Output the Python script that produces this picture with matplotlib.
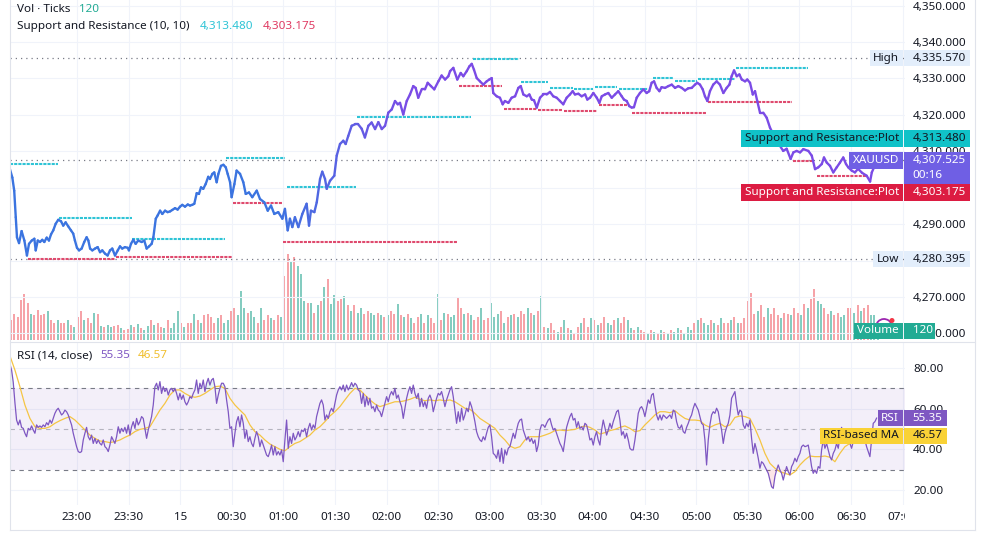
import numpy as np
import matplotlib
matplotlib.use("Agg")
import matplotlib.pyplot as plt
from matplotlib.collections import LineCollection
from matplotlib.patches import Rectangle, Ellipse, Arc
from matplotlib.lines import Line2D
import matplotlib.colors as mcolors

plt.rcParams['font.family'] = ['Noto Sans', 'DejaVu Sans']

# ---------------------------------------------------------------- data
# time values are minutes after 22:00 (14th); 120 = 00:00 (15th)
price_time = [
    21.0, 22.4, 23.5, 24.4, 25.1, 26.3, 27.8, 29.4, 30.9, 32.1,
    33.7, 35.2, 36.0, 37.2, 38.5, 39.8, 41.0, 42.4, 43.7, 44.9,
    46.2, 47.6, 49.1, 50.7, 52.0, 53.4, 54.9, 56.5, 57.8, 58.8,
    60.0, 61.2, 62.7, 64.2, 65.6, 66.6, 67.6, 68.9, 70.5, 72.0,
    73.4, 74.7, 76.3, 77.8, 79.2, 80.5, 82.1, 83.7, 85.0, 86.3,
    87.9, 89.5, 90.2, 91.4, 92.7, 94.1, 95.6, 97.6, 99.1, 100.5,
    101.9, 103.4, 104.4, 105.8, 106.9, 108.3, 109.6, 111.2, 112.7, 114.1,
    115.4, 117.0, 118.5, 119.9, 121.2, 122.8, 124.4, 125.7, 127.0, 128.2,
    129.6, 130.9, 132.1, 133.4, 134.8, 136.3, 137.3, 138.7, 139.8, 141.2,
    142.2, 143.7, 145.1, 146.5, 147.6, 149.0, 149.9, 151.5,
    152.8, 154.8, 156.7, 158.1, 160.0, 161.9, 164.5, 166.4, 168.9, 170.9,
    172.8, 174.7, 177.0, 179.4, 180.9, 182.5, 183.8, 185.2, 186.7, 188.7,
    191.0, 193.5, 194.9, 196.0, 198.0, 199.4, 201.3, 202.6, 204.2, 205.2,
    207.1, 209.6, 211.0, 212.9, 214.8, 216.2, 217.7, 219.7, 221.6, 223.5,
    225.5, 227.4, 229.4, 231.3, 233.3, 235.2, 237.2, 239.1, 241.0, 243.0,
    244.9, 246.5, 247.8, 249.7, 251.7, 253.6, 255.5, 256.9, 258.4, 260.4,
    262.3, 263.9, 265.8, 267.7, 270.1, 272.0, 274.0, 275.9,
    276.9, 278.8, 281.1, 283.1, 284.6, 286.6, 288.1, 289.5, 290.8, 292.4,
    294.3, 296.2, 298.2, 299.7, 301.1, 302.0, 304.0, 305.9, 307.5, 308.8,
    310.8, 312.7, 314.7, 316.6, 318.0, 319.5, 321.5, 323.0, 324.4, 325.7,
    327.3, 329.2, 331.1, 333.1, 335.0, 336.9, 338.9, 340.8, 342.7, 344.7,
    346.6, 348.2, 349.5, 351.5, 353.4, 355.4, 356.7, 358.3, 360.2, 362.2,
    363.7, 365.1, 367.0, 368.9, 370.9, 372.8, 374.7, 376.7, 378.0, 379.6,
    381.1, 382.5, 383.8, 385.4, 387.3, 389.3, 391.2, 392.7, 394.1, 395.5,
    397.0, 398.6, 399.9, 401.9, 403.8, 405.8, 407.7, 409.6, 411.6, 413.5,
    415.4, 417.4, 419.3, 420.6, 422.2, 423.8, 425.1, 426.5, 428.0, 429.9,
    431.9, 433.8, 435.8, 437.7, 439.3, 440.6, 442.0, 443.6, 445.1, 446.5,
    448.4, 449.7, 451.3, 452.9, 454.2, 455.5, 457.1, 459.0, 461.0, 462.9,
    464.7, 467.6, 470.6, 472.6, 474.9, 476.5, 478.4, 480.4, 482.3, 485.2,
    487.2, 489.1, 491.0, 493.0, 494.3, 495.9, 497.8, 499.7, 501.7, 503.6,
    505.5, 507.1, 508.4, 510.4, 512.3, 514.1, 516.4, 519.1, 521.1, 522.1,
    523.4, 524.6,
]
price_close = [
    4305.1, 4302.8, 4299.2, 4291.9, 4286.4, 4284.8, 4288.1, 4285.5, 4281.4, 4284.6,
    4285.5, 4286.0, 4282.8, 4285.5, 4285.1, 4285.7, 4285.1, 4286.3, 4285.5, 4287.2,
    4288.3, 4290.1, 4291.2, 4290.8, 4289.6, 4290.5, 4289.4, 4288.3, 4287.4, 4285.5,
    4283.5, 4282.8, 4283.3, 4285.1, 4286.4, 4285.5, 4283.3, 4282.8, 4283.3, 4283.7,
    4282.3, 4282.8, 4281.9, 4281.4, 4282.8, 4283.3, 4281.4, 4282.8, 4283.9, 4283.3,
    4283.7, 4283.5, 4282.8, 4284.6, 4285.7, 4284.6, 4285.5, 4285.1, 4285.5, 4283.3,
    4283.9, 4284.6, 4286.4, 4291.5, 4292.4, 4293.7, 4292.8, 4293.7, 4293.3, 4293.5,
    4293.9, 4294.4, 4294.0, 4294.8, 4295.3, 4294.8, 4295.4, 4295.1, 4295.3, 4295.6,
    4298.5, 4298.3, 4300.1, 4299.7, 4301.0, 4303.0, 4302.4, 4303.8, 4304.2, 4301.5,
    4303.8, 4306.0, 4306.3, 4305.6, 4303.8, 4301.5, 4297.4, 4301.0,
    4304.7, 4303.8, 4301.5, 4298.3, 4298.7, 4297.4, 4299.2, 4296.9, 4296.0, 4293.7,
    4295.1, 4292.8, 4293.3, 4291.5, 4294.2, 4288.3, 4291.5, 4289.2, 4291.9, 4289.2,
    4292.8, 4295.6, 4289.6, 4293.7, 4293.3, 4296.0, 4302.4, 4304.4, 4302.4, 4299.7,
    4301.9, 4303.3, 4308.8, 4312.0, 4312.9, 4312.0, 4314.2, 4317.0, 4317.4, 4317.4,
    4316.2, 4313.8, 4317.0, 4317.9, 4316.1, 4318.0, 4316.1, 4317.0, 4320.6, 4321.5,
    4323.8, 4322.9, 4323.3, 4320.1, 4323.8, 4325.6, 4327.9, 4327.4, 4324.7, 4327.0,
    4327.0, 4328.8, 4327.9, 4327.0, 4329.2, 4330.8, 4329.7, 4330.6,
    4332.0, 4332.9, 4329.7, 4331.5, 4330.6, 4332.0, 4333.3, 4334.0, 4332.4, 4330.1,
    4329.2, 4328.3, 4329.2, 4329.7, 4330.1, 4326.0, 4325.1, 4324.7, 4322.9, 4323.8,
    4323.3, 4324.7, 4325.1, 4327.4, 4327.9, 4325.6, 4325.1, 4325.6, 4324.2, 4324.0,
    4322.0, 4324.7, 4325.6, 4325.6, 4326.3, 4325.1, 4324.7, 4323.8, 4322.9, 4324.7,
    4325.6, 4326.5, 4325.6, 4325.8, 4325.1, 4325.6, 4324.2, 4324.7, 4326.0, 4324.7,
    4323.3, 4325.1, 4325.6, 4326.0, 4324.7, 4325.6, 4326.5, 4325.1, 4324.2, 4323.8,
    4322.4, 4322.0, 4322.1, 4324.7, 4326.0, 4327.0, 4326.0, 4326.5, 4328.8, 4329.2,
    4327.4, 4326.5, 4327.6, 4327.4, 4327.9, 4328.3, 4327.4, 4327.9, 4327.4, 4326.7,
    4327.3, 4327.4, 4328.3, 4328.8, 4328.3, 4327.0, 4325.1, 4323.8, 4326.5, 4328.3,
    4329.2, 4328.3, 4326.0, 4327.4, 4328.3, 4330.6, 4332.2, 4330.6, 4331.1, 4329.7,
    4329.2, 4329.7, 4328.8, 4325.6, 4326.5, 4323.8, 4320.6, 4320.6, 4319.2, 4316.5,
    4314.8, 4312.3, 4310.1, 4310.7, 4307.9, 4309.7, 4310.1, 4309.7, 4310.6, 4310.1,
    4308.8, 4305.1, 4305.6, 4306.5, 4308.3, 4306.9, 4306.0, 4304.2, 4305.6, 4306.9,
    4308.3, 4306.5, 4305.6, 4304.7, 4304.2, 4305.2, 4304.1, 4303.3, 4301.7, 4304.2,
    4305.6, 4307.525,
]

# Support and Resistance (10, 10) levels: start time, end time, level
res_start = [21.0, 49.5, 92.0, 146.5, 181.9, 222.8, 290.1, 318.1, 335.0, 349.0, 361.3, 375.3, 395.1, 407.5, 420.9, 443.0]
res_end = [49.0, 91.7, 146.0, 180.9, 222.0, 288.9, 317.0, 334.0, 348.2, 360.2, 373.8, 392.0, 406.3, 420.3, 442.4, 485.0]
res_level = [4306.4, 4291.6, 4285.9, 4308.2, 4300.1, 4319.5, 4335.3, 4328.9, 4327.3, 4327.1, 4327.6, 4327.2, 4330.2, 4329.2, 4329.8, 4332.8]
sup_start = [31.3, 82.7, 150.9, 179.9, 282.3, 308.0, 328.0, 343.2, 363.5, 382.4, 427.0, 476.5, 490.1]
sup_end = [82.1, 150.1, 179.0, 280.8, 306.9, 327.2, 342.0, 362.2, 381.0, 426.1, 475.5, 487.2, 519.1]
sup_level = [4280.4, 4281.1, 4295.7, 4285.1, 4328.0, 4321.7, 4321.3, 4321.1, 4322.7, 4320.6, 4323.6, 4307.4, 4303.175]

last_price = 4307.525
last_res = 4313.480
last_sup = 4303.175
high_price = 4335.570
low_price = 4280.395
countdown = "00:16"
symbol = "XAUUSD"

# volume (ticks), bars every vol_step minutes starting at vol_start
vol_start = 21.6
vol_step = 1.938
volume = [
    260, 350, 310, 530, 610, 490, 350, 330, 400, 330,
    350, 380, 260, 220, 260, 230, 220, 260, 200, 170,
    300, 390, 260, 290, 230, 360, 350, 180, 170, 200,
    170, 180, 200, 160, 130, 140, 200, 170, 210, 160,
    130, 180, 260, 200, 220, 170, 160, 260, 160, 230,
    390, 220, 170, 230, 220, 350, 260, 220, 330, 350,
    300, 230, 290, 330, 220, 260, 390, 430, 330, 650,
    420, 360, 390, 300, 220, 420, 260, 330, 290, 260,
    330, 310, 850, 1140, 1040, 1100, 980, 880, 520, 490,
    490, 360, 470, 520, 700, 810, 480, 600, 520, 550,
    590, 460, 390, 460, 360, 420, 350, 390, 360, 330,
    360, 330, 300, 330, 390, 350, 480, 330, 300, 350,
    290, 220, 300, 350, 220, 330, 290, 230, 610, 260,
    360, 350, 300, 330, 560, 430, 350, 360, 330, 260,
    300, 420, 260, 290, 490, 300, 350, 390, 220, 300,
    330, 350, 300, 390, 350, 420, 360, 330, 390, 590,
    170, 160, 220, 130, 100, 170, 260, 160, 130, 90,
    170, 220, 290, 170, 290, 260, 200, 220, 300, 220,
    200, 260, 290, 220, 300, 260, 160, 130, 170, 130,
    100, 90, 130, 100, 90, 130, 100, 90, 130, 100,
    160, 130, 90, 170, 130, 220, 260, 290, 230, 200,
    260, 230, 200, 290, 230, 220, 260, 300, 230, 220,
    290, 520, 620, 350, 390, 460, 300, 420, 350, 430,
    330, 290, 360, 350, 330, 420, 360, 330, 480, 420,
    550, 680, 520, 480, 430, 350, 390, 330, 360, 300,
    330, 420, 430, 360, 460, 390, 430, 460, 330, 330,
    120,
]
vol_dir = (
    "rrrrrrgrrr" "rgrrgrrgrg" "rrgrrgrgrg" "grrgrrgrgr" "ggrgrrgrgg"
    "grgrrgrgrr" "rrgrggrrgg" "grggrgrrgr" "rgrrgrgggr" "grgrgrggrr"
    "grgrggrrgg" "rgrgrrgrgr" "grrgrgrrgr" "grggrrgrgr" "rgrrgggrgr"
    "grgrrgrgrg" "rgrrgrgrgr" "rgrrgrgrrg" "grgrrggrgr" "rgrgrgrgrg"
    "grgggrgrgg" "rgrgrrgrgr" "rrrrgrrgrr" "rgrrgrrgrg" "rrggrrgrrg"
    "grrgrgrrgg" "g"
)

# RSI (14, close), sampled every rsi_step minutes from rsi_start
rsi_start = 21.0
rsi_step = 0.969
rsi_values = [
    82, 79, 73, 63, 54.4, 52, 54.4, 50.8, 50.3, 47.9,
    46.2, 50.3, 49.5, 51.5, 49.5, 47.9, 52, 50.8, 51.5, 50.8,
    52, 51.1, 53.1, 52, 54.4, 52.8, 55.2, 57.7, 59.3, 60.2,
    58.5, 56.9, 57.7, 59.3, 58.5, 56.9, 54.4, 52, 47.9, 44.6,
    41.3, 38.9, 38.4, 38.9, 44.6, 47.9, 50.8, 46.2, 44.6, 47,
    42.9, 45.4, 42.9, 44.6, 42.9, 42.1, 44.6, 41.3, 40.5, 38.9,
    42.1, 46.2, 44.6, 42.9, 46.2, 51.1, 47.9, 50.3, 48.7, 50.8,
    47.9, 52, 47, 51.1, 53.6, 50.3, 55.2, 52, 53.6, 56.1,
    55.2, 50.3, 45.4, 49.5, 52.8, 56.1, 61.8, 70.8, 72.5, 69.2,
    73.3, 67.5, 70.8, 68.4, 70, 66.7, 69.2, 70, 68.4, 70,
    67.5, 64.3, 67.5, 64.6, 66.7, 63.4, 61.8, 63.4, 65.9, 65.1,
    67.5, 69.2, 74.1, 67.5, 72.5, 70, 74.1, 68.4, 72.5, 74.9,
    71.6, 74.1, 74.9, 70.8, 62.6, 66.7, 70, 72.5, 72.5, 70.8,
    64.3, 58.5, 50.3, 51.1, 41.3, 47.9, 53.6, 56.1, 51.1, 56.9,
    52.8, 45.4, 49.5, 43.8, 46.2, 42.9, 41.3, 45.4, 48.7, 46.2,
    41.3, 44.6, 42.1, 39.7, 37.2, 36.4, 38.9, 42.1, 37.2, 41.3,
    37.2, 38.9, 37.2, 39.7, 33.9, 44.6, 54.4, 40.5, 46.2, 42.9,
    47.9, 44.6, 46.2, 48.7, 46.2, 49.5, 48.7, 50.3, 46.2, 50.3,
    52.8, 49.5, 52, 50.3, 56.1, 59.3, 62.6, 64.3, 61.8, 54.4,
    56.9, 55.2, 58.5, 60.2, 58.5, 62.6, 66.7, 69.2, 70.8, 69.2,
    71.6, 68.4, 71.6, 69.2, 70.8, 72.8, 70.8, 72.5, 71.6, 69.2,
    68.4, 62.6, 67.5, 61, 65.9, 61.8, 65.1, 60.2, 61, 58.5,
    61.8, 59.3, 58.5, 56.1, 59.3, 62.6, 65.9, 63.4, 66.7, 68.4,
    66.7, 70, 65.1, 66.7, 63.4, 61, 55.2, 60.2, 65.1, 68.4,
    70.8, 67.5, 71.6, 67.5, 65.1, 67.5, 61, 65.1, 61, 63.4,
    60.2, 65.1, 66.7, 64.3, 58.5, 61.8, 65.1, 67.5, 66.7, 68.4,
    65.1, 61, 64.3, 66.7, 69.2, 70.8, 65.9, 59.3, 52.8, 58.5,
    53.6, 60.2, 54.4, 56.9, 60.2, 58.5, 63.4, 61, 57.7, 53.6,
    48.7, 46.2, 44.6, 43.8, 46.2, 44.6, 47.9, 50.8,
    52, 46.2, 38, 37.2, 35.6, 39.7, 33.9, 40.5, 33.1, 39.7,
    37.2, 40.5, 41.3, 44.6, 47.9, 45.4, 49.5, 52.8, 54.4, 54.9,
    49.5, 47, 44.6, 46.2, 43.8, 45.4, 42.9, 44.6, 38.9, 42.1,
    49.5, 52, 52, 50.8, 52.8, 54.4, 55.2, 52, 49.5, 50.3,
    47.9, 45.4, 42.9, 41.3, 38.9, 44.6, 50.8, 53.6, 56.1, 57.7,
    54.4, 55.2, 50.8, 53.6, 50.3, 51.1, 49.5, 52.8, 52, 48.7,
    44.6, 45.4, 42.1, 46.2, 48.7, 44.6, 42.1, 49.5, 54.4, 50.8,
    47, 49.5, 52.8, 50.3, 53.6, 56.1, 58.5, 59.3, 54.4, 47,
    48.7, 45.4, 47.9, 44.6, 40.5, 39.7, 39.7, 44.6, 50.8, 57.7,
    60.2, 61, 59.3, 56.1, 60.2, 64.3, 62.6, 66.7, 67.5, 61.8,
    56.9, 54.4, 56.9, 54.4, 56.9, 56.1, 55.2, 56.1, 56.9, 55.2,
    59.3, 58.5, 53.6, 50.8, 50.3, 52, 48.7, 47.9, 50.8, 52.8,
    55.2, 56.9, 60.2, 62.6, 61, 59.3, 56.1, 52.8, 52, 44.6,
    32.3, 44.6, 52, 56.9, 58.5, 57.7, 60.2, 58.5, 53.6, 49.5,
    42.9, 47.9, 50.8, 52.8, 56.9, 65.1, 66.7, 68.4, 61.8, 56.9,
    59.3, 58.5, 52, 50.3, 52.8, 51.1, 54.4, 45.4, 38, 42.9,
    39.7, 35.6, 30.7, 33.9, 33.1, 31.5, 29.8, 28.2, 24.9, 21.6,
    20.8, 26.6, 29.8, 32.3, 29.8, 28.2, 24.9, 28.2, 31.5, 29,
    27.4, 31.5, 33.1, 35.6, 33.9, 36.4, 38, 41.3, 42.1, 41.3,
    41.6, 42.1, 37.2, 31.5, 28.2, 29.8, 28.2, 31.5, 30.7, 39.7,
    44.6, 40.5, 42.9, 39.7, 36.4, 34.8, 38, 39.7, 42.9, 40.5,
    46.2, 50.8, 47, 44.6, 45.4, 44.6, 42.9, 40.5, 43.8, 44.6,
    45.4, 48.7, 44.6, 42.9, 46.2, 44.6, 41.3, 38.9, 36.4, 44.6,
    52.8, 53.6, 55.35,
]
# RSI-based MA sampled every ma_step minutes from ma_start
ma_start = 21.0
ma_step = 2.907
ma_values = [
    86, 79, 70.8, 61.8, 55.2, 51.1, 50.3, 50.3, 51.1, 52.8,
    54.1, 55.2, 56.1, 54.4, 52, 49.5, 47, 45.4, 44.1, 43.8,
    43.3, 43.8, 44.6, 45.9, 47, 48.7, 49.8, 50.3, 51.1, 55.2,
    59.3, 62.6, 66.7, 69.2, 69.2, 67.5, 66.2, 65.6, 66.2, 67.5,
    69.2, 70.8, 71.1, 70, 65.1, 61.8, 59.3, 56.9, 52, 48.7,
    47, 44.6, 42.6, 41.3, 40, 39.3, 41.3, 42.9, 43.8, 45.4,
    47, 49.5, 51.1, 53.6, 56.4, 58.5, 61, 64.3, 67.5, 70,
    69.2, 66.7, 64.3, 62.3, 61, 61.8, 62.6, 63.4, 63.4, 63.9,
    64.6, 65.6, 64.6, 63.9, 64.3, 63.9, 64.3, 63.9, 64.3, 63.4,
    61.8, 60.2, 59.7, 57.7, 55.2, 53.6, 52,
    50.3, 47, 44.6, 41.6, 40.5, 41.3, 44.6, 46.2, 46.2, 46.2,
    47, 47.9, 49.2, 49.5, 49.2, 49.5, 49.8, 50.8, 51.5, 50.8,
    49.5, 47.5, 48.2, 49.2, 49.8, 50.8, 51.5, 50.3, 48.7, 49.2,
    52, 54.4, 56.9, 58.5, 58.5, 58, 59, 56.9, 55.2, 54.4,
    54.4, 54.1, 52, 50.8, 52, 52.8, 51.1, 52, 55.7, 56.4,
    56.1, 55.2, 50.3, 44.6, 38, 33.1, 30.7, 29, 28.2, 27.4,
    29, 32.3, 34.8, 36.7, 36.4, 36.4, 36.7, 36.1, 33.9, 38,
    41.3, 42.9, 44.6, 45.4, 45.4, 46.2, 46.57,
]

time_ticks = [60, 90, 120, 150, 180, 210, 240, 270, 300, 330, 360, 390, 420, 450, 480, 510, 540]
time_labels = ["23:00", "23:30", "15", "00:30", "01:00", "01:30", "02:00", "02:30", "03:00",
               "03:30", "04:00", "04:30", "05:00", "05:30", "06:00", "06:30", "07:00"]
price_ticks = [4260, 4270, 4280, 4290, 4300, 4310, 4320, 4330, 4340, 4350]
rsi_ticks = [20, 40, 60, 80]

# ---------------------------------------------------------------- style
W, H = 985, 548
TXT = '#131722'
GRID = '#f0f3fa'
BORDER = '#e0e3eb'
BLUE = '#3b74e0'
PURPLE = '#7b4be6'
CYAN = '#2fc4d6'
CYAN_LBL = '#10c2c8'
RED = '#df4a6e'
RED_LBL = '#dc1c42'
UP = '#84ccc0'
DOWN = '#f6a3a8'
XAU = '#6f5fe4'
HL = '#e3eefb'
RSI_C = '#7e57c2'
MA_C = '#f5c544'
VOL_C = '#22ab94'
FS = 8.4
BOX_H = 16.5

fig = plt.figure(figsize=(W / 100, H / 100), dpi=100)
fig.patch.set_facecolor('white')


def fx(px):
    return px / W


def fy(py):
    return 1 - py / H


XLIM = (21.05, 541.4)

# volume axes (behind), main price axes, rsi axes, time axis strip
ax_vol = fig.add_axes([fx(10), fy(340), 895 / W, 340 / H])
ax = fig.add_axes([fx(10), fy(340), 895 / W, 340 / H], sharex=ax_vol)
ax_rsi = fig.add_axes([fx(10), fy(505), 895 / W, 163 / H])
ax_t = fig.add_axes([fx(10), fy(530), 895 / W, 25 / H])

for a in (ax_vol, ax, ax_rsi, ax_t):
    a.set_xlim(*XLIM)
    for s in a.spines.values():
        s.set_visible(False)
ax.patch.set_visible(False)

# ---- volume
ax_vol.set_ylim(0, 4522)
ax_vol.axis('off')
vt = vol_start + vol_step * np.arange(len(volume))
vcols = [UP if c == 'g' else DOWN for c in vol_dir]
ax_vol.bar(vt, volume, width=vol_step * 0.62, color=vcols, linewidth=0, zorder=2)

# ---- main price pane
ax.set_ylim(4258.20, 4351.53)
ax.set_yticks(price_ticks)
ax.yaxis.tick_right()
ax.tick_params(axis='y', length=0, pad=5.8, labelsize=FS, labelcolor=TXT)
ax.set_xticks(time_ticks)
ax.tick_params(axis='x', length=0, labelbottom=False)
ax.grid(True, color=GRID, lw=0.8, zorder=0)
ax.set_axisbelow(True)

# dotted reference lines
for lvl in (high_price, low_price, last_price):
    ax.axhline(lvl, color='#787b86', lw=0.9, ls=(0, (1, 3.2)), zorder=2)

# support / resistance segments
for s, e, l in zip(res_start, res_end, res_level):
    ax.plot([s, e], [l, l], color=CYAN, lw=1.5, ls=(0, (1.5, 0.5)), zorder=3)
for s, e, l in zip(sup_start, sup_end, sup_level):
    ax.plot([s, e], [l, l], color=RED, lw=1.5, ls=(0, (1.5, 0.5)), zorder=3)

# price line with blue -> purple gradient
pt = np.asarray(price_time)
pc = np.asarray(price_close)
pts = np.column_stack([pt, pc]).reshape(-1, 1, 2)
segs = np.concatenate([pts[:-1], pts[1:]], axis=1)
mid = (pt[:-1] + pt[1:]) / 2
frac = np.clip((mid - 175) / (255 - 175), 0, 1)
c0 = np.array(mcolors.to_rgb(BLUE))
c1 = np.array(mcolors.to_rgb(PURPLE))
seg_cols = c0[None, :] * (1 - frac[:, None]) + c1[None, :] * frac[:, None]
lc = LineCollection(segs, colors=seg_cols, linewidths=1.7, zorder=4, capstyle='round', joinstyle='round')
ax.add_collection(lc)

# ---- RSI pane
rt = rsi_start + rsi_step * np.arange(len(rsi_values))
rv = np.asarray(rsi_values, dtype=float)
mt = ma_start + ma_step * np.arange(len(ma_values))
ax_rsi.set_ylim(12.61, 92.79)
ax_rsi.set_yticks(rsi_ticks)
ax_rsi.set_yticklabels([f"{v:.2f}" for v in rsi_ticks])
ax_rsi.yaxis.tick_right()
ax_rsi.tick_params(axis='y', length=0, pad=5.8, labelsize=FS, labelcolor=TXT)
ax_rsi.set_xticks(time_ticks)
ax_rsi.tick_params(axis='x', length=0, labelbottom=False)
ax_rsi.grid(True, color=GRID, lw=0.8, zorder=0)
ax_rsi.set_axisbelow(True)
ax_rsi.axhspan(30, 70, color=RSI_C, alpha=0.09, lw=0, zorder=1)
ax_rsi.axhline(70, color='#787b86', lw=0.8, ls=(0, (4, 4)), zorder=2)
ax_rsi.axhline(30, color='#787b86', lw=0.8, ls=(0, (4, 4)), zorder=2)
ax_rsi.axhline(50, color='#787b86', lw=0.8, ls=(0, (4, 4)), alpha=0.5, zorder=2)
ax_rsi.fill_between(rt, rv, 30, where=rv < 30, interpolate=True, color='#f23645', alpha=0.12, lw=0, zorder=2)
ax_rsi.fill_between(rt, rv, 70, where=rv > 70, interpolate=True, color='#089981', alpha=0.10, lw=0, zorder=2)
ax_rsi.plot(rt, rv, color=RSI_C, lw=0.9, zorder=4)
ax_rsi.plot(mt, ma_values, color=MA_C, lw=0.9, zorder=3)

# ---- time axis labels (clipped at price-scale edge)
ax_t.set_ylim(0, 1)
ax_t.axis('off')
for t, lab in zip(time_ticks, time_labels):
    ax_t.text(t, 0.52, lab, ha='center', va='center', fontsize=FS, color=TXT,
              fontweight='bold' if lab == '15' else 'normal', clip_on=True)

# ---- frame lines
for (x0, y0, x1, y1) in [(10, 0, 10, 530), (975, 0, 975, 530), (10, 530, 975, 530), (10, 341.5, 975, 341.5)]:
    fig.add_artist(Line2D([fx(x0), fx(x1)], [fy(y0), fy(y1)], transform=fig.transFigure,
                          color=BORDER, lw=0.8, zorder=5))

renderer = fig.canvas.get_renderer()


def py_of(axis, value):
    disp = axis.transData.transform((XLIM[0], value))
    return H - disp[1] * (100 / fig.dpi)


def seq_text(x_px, y_px, parts, gap=8, fs=FS):
    x = x_px
    for s, c in parts:
        t = fig.text(fx(x), fy(y_px), s, color=c, fontsize=fs, ha='left', va='center', zorder=12)
        x += t.get_window_extent(renderer).width + gap


def rect(x0, x1, y0, y1, fc):
    fig.add_artist(Rectangle((fx(x0), fy(y1)), (x1 - x0) / W, (y1 - y0) / H,
                             transform=fig.transFigure, fc=fc, ec='none', zorder=11))


def name_box(yc, text, fc, tc, right=902.5, h=BOX_H, pad=3.5):
    t = fig.text(fx(right - pad), fy(yc), text, color=tc, fontsize=FS, ha='right', va='center', zorder=12)
    w = t.get_window_extent(renderer).width
    rect(right - w - 2 * pad, right, yc - h / 2, yc + h / 2, fc)


full_boxes = []   # vertical spans of full-width value boxes on the price scale


def value_box(yc, text, fc, tc, x1=969.5, h=BOX_H, extra=None):
    bottom = yc + h / 2 + (15 if extra else 0)
    rect(904, x1, yc - h / 2, bottom, fc)
    if x1 > 960:
        full_boxes.append((yc - h / 2, bottom))
    fig.text(fx(912.5), fy(yc), text, color=tc, fontsize=FS, ha='left', va='center', zorder=12)
    if extra:
        fig.text(fx(912.5), fy(yc + 15), extra, color=tc, fontsize=FS, ha='left', va='center', zorder=12)


# legends
seq_text(17, 10, [("Vol · Ticks", TXT), (f"{volume[-1]}", VOL_C)])
seq_text(17, 27, [("Support and Resistance (10, 10)", TXT), (f"{last_res:,.3f}", CYAN), (f"{last_sup:,.3f}", '#e03a62')], gap=10)
seq_text(17, 356, [("RSI (14, close)", TXT), (f"{rsi_values[-1]:.2f}", RSI_C), (f"{ma_values[-1]:.2f}", '#f0be2e')])

# price scale labels
y_high = py_of(ax, high_price)
y_low = py_of(ax, low_price)
name_box(y_high, "High", HL, TXT)
value_box(y_high, f"{high_price:,.3f}", HL, TXT)
name_box(y_low, "Low", HL, TXT)
value_box(y_low, f"{low_price:,.3f}", HL, TXT)

y_res = py_of(ax, last_res)
name_box(y_res, "Support and Resistance:Plot", CYAN_LBL, TXT)
value_box(y_res, f"{last_res:,.3f}", CYAN_LBL, TXT)

y_last = py_of(ax, last_price)
name_box(y_last, symbol, XAU, 'white')
value_box(y_last, f"{last_price:,.3f}", XAU, 'white', extra=countdown)
last_bottom = y_last + BOX_H / 2 + 15

y_sup = py_of(ax, last_sup)
if y_sup - BOX_H / 2 < last_bottom + 0.5:
    y_sup = last_bottom + 0.5 + BOX_H / 2
name_box(y_sup, "Support and Resistance:Plot", RED_LBL, 'white')
value_box(y_sup, f"{last_sup:,.3f}", RED_LBL, 'white')

y_vol = py_of(ax_vol, volume[-1])
name_box(y_vol, "Volume", VOL_C, 'white')
value_box(y_vol, f"{volume[-1]}", VOL_C, 'white', x1=935)

# price tick labels that sit completely under a label box stay hidden, as on the chart
tick_texts = []
for v in price_ticks:
    yv = py_of(ax, v)
    covered = any(top <= yv <= bot for top, bot in full_boxes)
    tick_texts.append('' if covered else f"{v:,.3f}")
ax.set_yticklabels(tick_texts)

# RSI scale labels
y_rsi = py_of(ax_rsi, rsi_values[-1])
y_ma = py_of(ax_rsi, ma_values[-1])
name_box(y_rsi, "RSI", RSI_C, 'white')
value_box(y_rsi, f"{rsi_values[-1]:.2f}", RSI_C, 'white', x1=947)
name_box(y_ma, "RSI-based MA", '#f9d236', TXT)
value_box(y_ma, f"{ma_values[-1]:.2f}", '#f9d236', TXT, x1=947)

# small alert icon next to the volume label
fig.add_artist(Arc((fx(884), fy(327)), 16 / W, 16 / H, theta1=20, theta2=175,
                   transform=fig.transFigure, color='#9c27b0', lw=1.3, zorder=10))
fig.add_artist(Ellipse((fx(892), fy(320.5)), 5 / W, 5 / H, transform=fig.transFigure,
                       fc='#f23645', ec='none', zorder=10))

fig.savefig("out.png", dpi=100, facecolor='white')
